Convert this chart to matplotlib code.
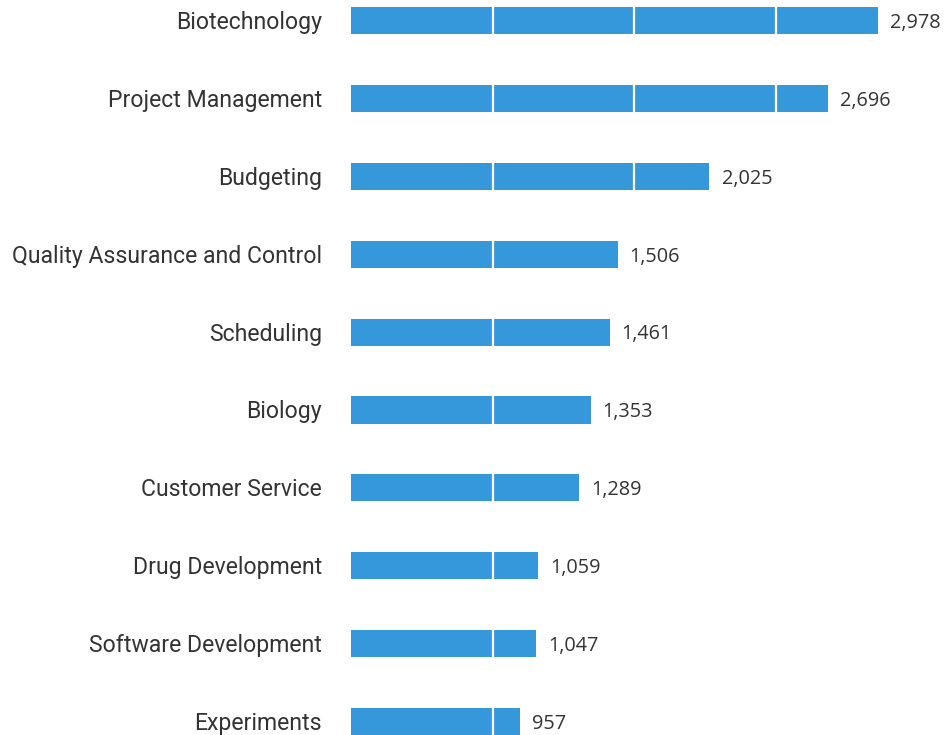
import numpy as np
import matplotlib
matplotlib.use('Agg')
import matplotlib.pyplot as plt

# data
skills = ['Biotechnology', 'Project Management', 'Budgeting',
          'Quality Assurance and Control', 'Scheduling', 'Biology',
          'Customer Service', 'Drug Development', 'Software Development',
          'Experiments']
counts = [2978, 2696, 2025, 1506, 1461, 1353, 1289, 1059, 1047, 957]
grid_at = [800, 1600, 2400]

bar_color = '#3498db'
text_color = '#333333'

fig = plt.figure(figsize=(9.46, 7.35), dpi=100)
ax = fig.add_axes([351 / 946, 0, 595 / 946, 1])

ypos = np.arange(len(skills))
ax.barh(ypos, counts, height=0.347, color=bar_color, zorder=1)

# white separator lines drawn over the bars
for g in grid_at:
    ax.axvline(g, color='white', lw=1.6, zorder=2)

for y, v in zip(ypos, counts):
    ax.text(v + 68, y + 0.03, f'{v:,}', va='center', ha='left',
            fontsize=14.3, family='Open Sans', color=text_color)

for y, s in zip(ypos, skills):
    ax.text(-165, y + 0.025, s, va='center', ha='right', fontsize=16.6,
            family='Roboto', color=text_color)

ax.set_xlim(0, 3361)
ax.set_ylim(9.172, -0.263)
ax.axis('off')

fig.savefig('out.png', dpi=100)
plt.close(fig)
